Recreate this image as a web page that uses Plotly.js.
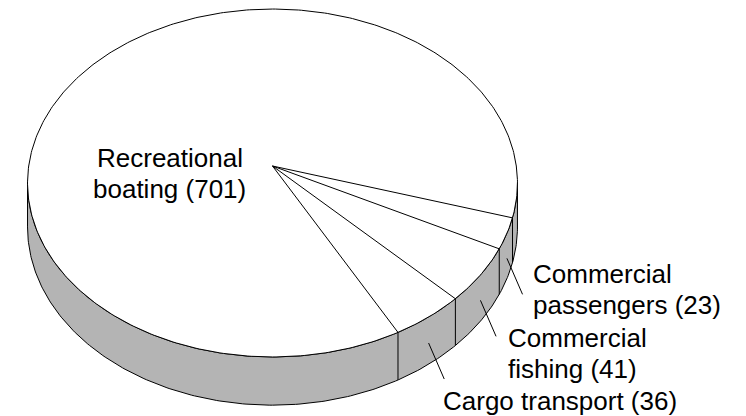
<!DOCTYPE html>
<html>
<head>
<meta charset="utf-8">
<script src="https://cdn.plot.ly/plotly-3.0.1.min.js"></script>
<style>
  html, body { margin: 0; padding: 0; background: #ffffff; }
  #chart { width: 746px; height: 416px; }
</style>
</head>
<body>
<div id="chart"></div>
<script>
// ---------------- DATA ----------------
const categories = ['Recreational boating', 'Commercial passengers', 'Commercial fishing', 'Cargo transport'];
const values = [701, 23, 41, 36];
const labelLines = [
  ['Recreational', 'boating'],
  ['Commercial', 'passengers'],
  ['Commercial', 'fishing'],
  ['Cargo transport']
];

// ---------------- LAYOUT / STYLE CONSTANTS ----------------
const W = 746, HGT = 416;
const CX = 272.5, CY = 166;      // projected pie centre (pixels)
const F = 243.8, G = 172.3;      // horizontal / vertical radius scale
const K = 0.0977;                // perspective factor
const THICK = 43.5;              // side thickness
const END_ANGLE_FIRST = -17;     // angle where first slice ends (deg)
const SIDE_COLOR = '#b4b4b4';
const LINE = {color: '#000000', width: 1};
const FONT = {family: 'Liberation Sans, Arial, sans-serif', size: 26, color: '#000000'};
const LINE_GAP = 31;
const BASE_SHIFT = 9;            // baseline -> middle of text box
// label anchor: [x, first baseline y, xanchor]
const labelAnchor = [
  [169.5, 166.7, 'center'],
  [532, 283.3, 'left'],
  [507.3, 346.7, 'left'],
  [441.7, 409.8, 'left']
];
const LEADER_H = 0.55;
const LEADER_VEC = [15.6, 36];

// ---------------- GEOMETRY ----------------
function projXY(X, Y, h) {
  const w = 1 + K * Y;
  return [CX + F * X / w, CY - G * Y / w + h * THICK / w];
}
function proj(thetaDeg, h) {
  const r = thetaDeg * Math.PI / 180;
  return projXY(Math.cos(r), Math.sin(r), h);
}

const total = values.reduce((a, b) => a + b, 0);
const start = END_ANGLE_FIRST + 360 * values[0] / total;
// boundaries going clockwise (decreasing angle)
const bounds = [start];
let acc = start;
values.forEach(v => { acc -= 360 * v / total; bounds.push(acc); });

const traces = [];
const tRight = -Math.asin(K) * 180 / Math.PI;   // right silhouette
const tLeft = -180 - tRight;                    // left silhouette

// side face
(function () {
  const xs = [], ys = [];
  const N = 240;
  for (let i = 0; i <= N; i++) {
    const t = tRight + (tLeft - tRight) * i / N;
    const p = proj(t, 0); xs.push(p[0]); ys.push(p[1]);
  }
  for (let i = 0; i <= N; i++) {
    const t = tLeft + (tRight - tLeft) * i / N;
    const p = proj(t, 1); xs.push(p[0]); ys.push(p[1]);
  }
  xs.push(xs[0]); ys.push(ys[0]);
  traces.push({x: xs, y: ys, mode: 'lines', fill: 'toself', fillcolor: SIDE_COLOR,
    line: LINE, hoverinfo: 'skip', showlegend: false});
})();

// top face
(function () {
  const xs = [], ys = [];
  const N = 480;
  for (let i = 0; i <= N; i++) {
    const p = proj(360 * i / N, 0); xs.push(p[0]); ys.push(p[1]);
  }
  traces.push({x: xs, y: ys, mode: 'lines', fill: 'toself', fillcolor: '#ffffff',
    line: LINE, hoverinfo: 'skip', showlegend: false});
})();

// slice boundaries
const bx = [], by = [];
for (let i = 0; i < values.length; i++) {
  const b = bounds[i];
  const c = projXY(0, 0, 0);
  const p = proj(b, 0);
  bx.push(c[0], p[0], null); by.push(c[1], p[1], null);
  const bn = ((b % 360) + 360) % 360 - 360; // normalise to (-360, 0]
  if (bn <= tRight && bn >= tLeft) {
    const q = proj(b, 1);
    bx.push(p[0], q[0], null); by.push(p[1], q[1], null);
  }
}
// leaders for slices with external labels
for (let i = 1; i < values.length; i++) {
  const mid = (bounds[i] + bounds[i + 1]) / 2;
  const s = proj(mid, LEADER_H);
  bx.push(s[0], s[0] + LEADER_VEC[0], null); by.push(s[1], s[1] + LEADER_VEC[1], null);
}
traces.push({x: bx, y: by, mode: 'lines', line: LINE, hoverinfo: 'skip', showlegend: false});

// labels
const annotations = [];
labelLines.forEach((lines, i) => {
  const full = lines.slice();
  full[full.length - 1] = full[full.length - 1] + ' (' + values[i] + ')';
  const a = labelAnchor[i];
  full.forEach((txt, j) => {
    annotations.push({
      x: a[0], y: a[1] + j * LINE_GAP - BASE_SHIFT, xref: 'x', yref: 'y',
      text: txt, showarrow: false, xanchor: a[2], yanchor: 'middle',
      font: FONT, borderpad: 0
    });
  });
});

const layout = {
  width: W, height: HGT,
  margin: {l: 0, r: 0, t: 0, b: 0, pad: 0},
  paper_bgcolor: '#ffffff', plot_bgcolor: '#ffffff',
  xaxis: {range: [0, W], visible: false, fixedrange: true},
  yaxis: {range: [HGT, 0], visible: false, fixedrange: true},
  annotations: annotations,
  showlegend: false
};

Plotly.newPlot('chart', traces, layout, {displayModeBar: false, staticPlot: true});
</script>
</body>
</html>
